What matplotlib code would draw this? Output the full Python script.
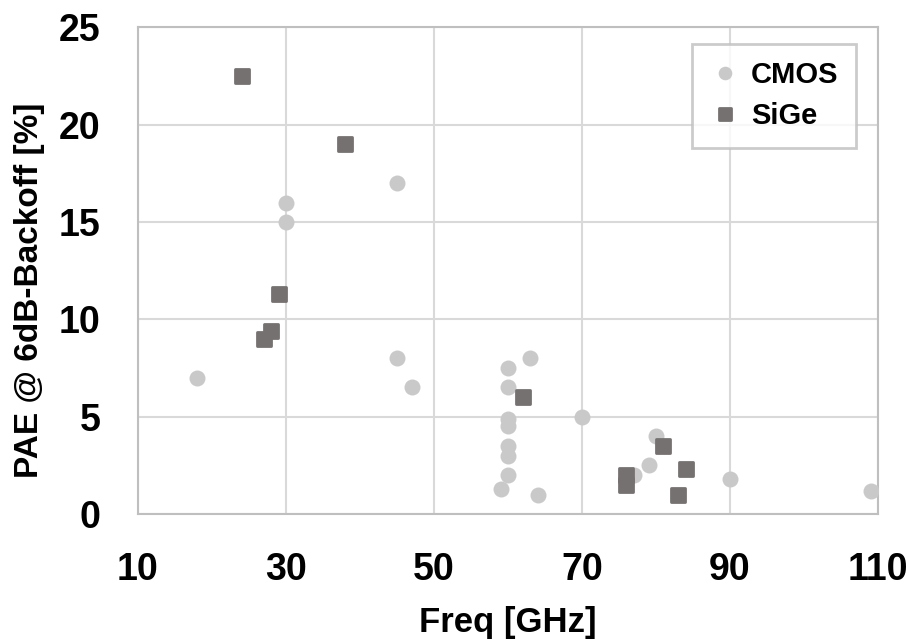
import matplotlib
matplotlib.use("Agg")
import matplotlib.pyplot as plt
from matplotlib.markers import MarkerStyle

# data
cmos_freq = [18, 30, 30, 45, 45, 47, 60, 60, 60, 60, 60, 60, 60, 59, 63, 64, 70, 80, 79, 77, 90, 109]
cmos_pae = [7, 16, 15, 17, 8, 6.5, 7.5, 6.5, 4.9, 4.5, 3.5, 3.0, 2.0, 1.3, 8, 1.0, 5.0, 4.0, 2.5, 2.0, 1.8, 1.2]
sige_freq = [24, 38, 29, 28, 27, 62, 81, 84, 83, 76, 76]
sige_pae = [22.5, 19, 11.3, 9.4, 9.0, 6.0, 3.5, 2.3, 1.0, 2.0, 1.5]

x_ticks = [10, 30, 50, 70, 90, 110]
y_ticks = [0, 5, 10, 15, 20, 25]

plt.rcParams['font.family'] = ['Liberation Sans', 'DejaVu Sans']
plt.rcParams['font.weight'] = 'bold'

fig = plt.figure(figsize=(9.09, 6.39), dpi=100)
ax = fig.add_axes([0.1518, 0.1956, 0.8141, 0.7617])

ax.grid(True, color='#d9d9d9', linewidth=1.5)
ax.set_axisbelow(True)

ax.plot(cmos_freq, cmos_pae, ls='none', marker='o', ms=11.5, mfc='#c9c9c9', mec='#c9c9c9', mew=0,
        label='CMOS', zorder=3)
sq = MarkerStyle('s', joinstyle='round')
ax.plot(sige_freq, sige_pae, ls='none', marker=sq, ms=9.5, mfc='#767171', mec='#767171', mew=2,
        label='SiGe', zorder=4)

ax.set_xlim(10, 110)
ax.set_ylim(0, 25)
ax.set_xticks(x_ticks)
ax.set_yticks(y_ticks)
ax.tick_params(length=0, labelsize=27)
ax.tick_params(axis='x', pad=27)
ax.tick_params(axis='y', pad=27)
for lab in ax.get_xticklabels() + ax.get_yticklabels():
    lab.set_fontweight('bold')

for s in ax.spines.values():
    s.set_color('#bfbfbf')
    s.set_linewidth(1.5)

ax.set_xlabel('Freq [GHz]', fontsize=25, fontweight='bold', labelpad=13)
ax.set_ylabel('PAE @ 6dB-Backoff [%]', fontsize=24, fontweight='bold')
ax.yaxis.set_label_coords(-0.126, 0.46)

leg = ax.legend(loc='upper right', bbox_to_anchor=(0.970, 0.966), borderaxespad=0,
                fontsize=21, markerscale=0.85,
                frameon=True, fancybox=False, edgecolor='#bfbfbf', handlelength=1.0,
                handletextpad=0.4, borderpad=0.6, labelspacing=0.45)
leg.get_frame().set_linewidth(2)
for t in leg.get_texts():
    t.set_fontweight('bold')

fig.savefig('out.png', dpi=100)
